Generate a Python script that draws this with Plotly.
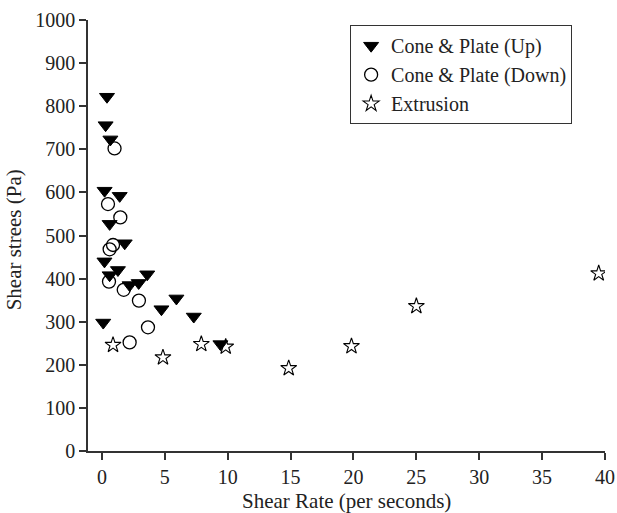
import plotly.graph_objects as go

up_x = [0.40, 0.29, 0.67, 0.21, 1.41, 0.61, 1.81, 0.2, 1.27, 0.61, 2.2, 2.92, 3.6, 0.1, 4.73, 5.92, 7.3, 9.42]
up_y = [822, 756, 723, 604, 592, 527, 482, 440, 420, 408, 385, 390, 410, 298, 329, 354, 312, 248]

down_x = [1.0, 0.48, 1.46, 0.88, 0.61, 0.56, 1.73, 2.94, 3.66, 2.2]
down_y = [702, 573, 542, 478, 468, 393, 374, 349, 287, 252]

ext_x = [0.88, 4.85, 7.9, 9.84, 14.85, 19.84, 25.0, 39.5]
ext_y = [246, 217, 248, 242, 192, 243, 336, 412]

x_ticks = [0, 5, 10, 15, 20, 25, 30, 35, 40]
y_ticks = [0, 100, 200, 300, 400, 500, 600, 700, 800, 900, 1000]

FONT = "Liberation Serif, Times New Roman, serif"

fig = go.Figure()
fig.add_trace(go.Scatter(x=up_x, y=up_y, mode="markers", name="Cone & Plate (Up)",
                         marker=dict(symbol="triangle-down", size=13, color="black",
                                     line=dict(color="black", width=1))))
fig.add_trace(go.Scatter(x=down_x, y=down_y, mode="markers", name="Cone & Plate (Down)",
                         marker=dict(symbol="circle-open", size=13, color="black",
                                     line=dict(color="black", width=1.3))))
fig.add_trace(go.Scatter(x=ext_x, y=ext_y, mode="markers", name="Extrusion",
                         marker=dict(symbol="star-open", size=12, color="black",
                                     line=dict(color="black", width=1.1))))

fig.update_layout(
    width=617, height=513,
    margin=dict(l=88, r=12, t=20, b=62, autoexpand=False),
    plot_bgcolor="white", paper_bgcolor="white",
    font=dict(family=FONT, size=20, color="#222"),
    showlegend=True,
    legend=dict(x=0.507, y=0.988, xanchor="left", yanchor="top",
                bordercolor="#333", borderwidth=1, bgcolor="white",
                font=dict(family=FONT, size=20, color="#222"),
                tracegroupgap=0),
    annotations=[
        dict(text="Shear Rate (per seconds)", xref="paper", yref="paper",
             x=0.5, y=-0.117, xanchor="center", yanchor="middle", showarrow=False,
             font=dict(family=FONT, size=21, color="#222")),
        dict(text="Shear strees (Pa)", xref="paper", yref="paper",
             x=-0.144, y=0.49, xanchor="center", yanchor="middle", showarrow=False,
             textangle=-90, font=dict(family=FONT, size=21, color="#222")),
    ],
)
fig.update_xaxes(range=[-1.11, 40], tickvals=x_ticks, ticktext=[str(v) for v in x_ticks],
                 showgrid=False, zeroline=False, showline=True, linecolor="#333", linewidth=1.5,
                 ticks="outside", ticklen=7, tickcolor="#333", tickwidth=1.5, automargin=False)
fig.update_yaxes(range=[0, 1000], tickvals=y_ticks, ticktext=[str(v) for v in y_ticks],
                 showgrid=False, zeroline=False, showline=True, linecolor="#333", linewidth=1.5,
                 ticks="outside", ticklen=7, tickcolor="#333", tickwidth=1.5, automargin=False)

fig.write_html("out.html")
